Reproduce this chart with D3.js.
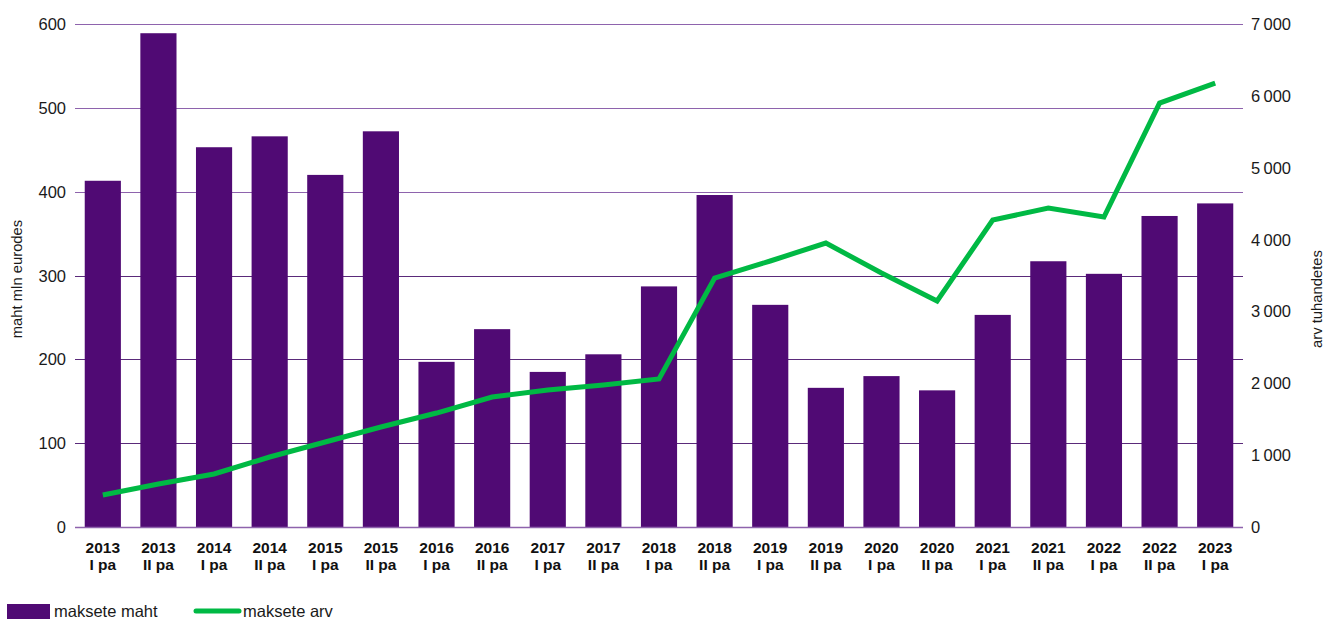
<!DOCTYPE html>
<html><head><meta charset="utf-8">
<script src="https://cdn.jsdelivr.net/npm/d3@7"></script>
<style>body{margin:0;background:#fff}svg{display:block;font-family:"Liberation Sans",Arial,sans-serif}</style>
</head><body><svg id="c" width="1326" height="619"></svg>
<script>
const categories = [["2013","I pa"],["2013","II pa"],["2014","I pa"],["2014","II pa"],["2015","I pa"],["2015","II pa"],["2016","I pa"],["2016","II pa"],["2017","I pa"],["2017","II pa"],["2018","I pa"],["2018","II pa"],["2019","I pa"],["2019","II pa"],["2020","I pa"],["2020","II pa"],["2021","I pa"],["2021","II pa"],["2022","I pa"],["2022","II pa"],["2023","I pa"]];
const volume = [413,589,453,466,420,472,197,236,185,206,287,396,265,166,180,163,253,317,302,371,386];
const count = [445,598,738,974,1183,1392,1586,1809,1906,1976,2060,3465,3702,3952,3535,3145,4272,4439,4314,5900,6178];
const leftTicks = [0,100,200,300,400,500,600];
const rightTicks = [0,1000,2000,3000,4000,5000,6000,7000];

const svg = d3.select("#c");
const L=75,R=1243,T=24,B=527;
const keys = categories.map((d,i)=>i);
const x = d3.scaleBand().domain(keys).range([L,R]).paddingInner(0.35).paddingOuter(0.175);
const yL = d3.scaleLinear().domain([0,600]).range([B,T]);
const yR = d3.scaleLinear().domain([0,7000]).range([B,T]);
const fmt = v => v>=1000 ? d3.format(",")(v).replace(/,/g,"\u2009") : String(v);

// grid
svg.append("g").selectAll("line").data(leftTicks).join("line")
  .attr("x1",L).attr("x2",R).attr("y1",d=>Math.round(yL(d))+0.5).attr("y2",d=>Math.round(yL(d))+0.5)
  .attr("stroke",d=>d>=400?"#8e63ad":"#5a2a7a").attr("stroke-width",1.2);

// bars
svg.append("g").selectAll("rect").data(volume).join("rect")
  .attr("x",(d,i)=>x(i)).attr("width",x.bandwidth())
  .attr("y",d=>yL(d)).attr("height",d=>B-yL(d))
  .attr("fill","#500a74");

// baseline
svg.append("line").attr("x1",L).attr("x2",R).attr("y1",B+0.5).attr("y2",B+0.5).attr("stroke","#8e63ad").attr("stroke-width",1.5);

// line
svg.append("path").datum(count)
  .attr("d",d3.line().x((d,i)=>x(i)+x.bandwidth()/2).y(d=>yR(d)))
  .attr("fill","none").attr("stroke","#00b944").attr("stroke-width",5).attr("stroke-linejoin","miter");

// left ticks
svg.append("g").selectAll("text").data(leftTicks).join("text")
  .attr("x",66).attr("y",d=>yL(d)+6).attr("text-anchor","end")
  .attr("font-size",16.5).attr("fill","#1a1a1a").text(d=>d);
// right ticks
svg.append("g").selectAll("text").data(rightTicks).join("text")
  .attr("x",1251).attr("y",d=>yR(d)+6).attr("text-anchor","start")
  .attr("font-size",16.5).attr("fill","#1a1a1a").text(fmt);

// category labels (two separate lines)
const cx = (d,i)=>x(i)+x.bandwidth()/2;
svg.append("g").selectAll("text").data(categories).join("text")
  .attr("x",cx).attr("y",553).attr("text-anchor","middle").attr("font-size",15.5)
  .attr("font-weight","bold").attr("fill","#111").text(d=>d[0]);
svg.append("g").selectAll("text").data(categories).join("text")
  .attr("x",cx).attr("y",570).attr("text-anchor","middle").attr("font-size",15.5)
  .attr("font-weight","bold").attr("fill","#111").text(d=>d[1]);

// axis titles
svg.append("text").attr("transform","translate(22,279) rotate(-90)").attr("text-anchor","middle")
  .attr("font-size",14.8).attr("fill","#1a1a1a").text("maht mln eurodes");
svg.append("text").attr("transform","translate(1322,299) rotate(-90)").attr("text-anchor","middle")
  .attr("font-size",14.8).attr("fill","#1a1a1a").text("arv tuhandetes");

// legend
svg.append("rect").attr("x",7).attr("y",604).attr("width",43).attr("height",15).attr("fill","#500a74");
svg.append("text").attr("x",54).attr("y",617).attr("font-size",16.5).attr("fill","#1a1a1a").text("maksete maht");
svg.append("line").attr("x1",196).attr("x2",239).attr("y1",611).attr("y2",611).attr("stroke","#00b944").attr("stroke-width",5).attr("stroke-linecap","round");
svg.append("text").attr("x",243).attr("y",617).attr("font-size",16.5).attr("fill","#1a1a1a").text("maksete arv");
</script></body></html>
